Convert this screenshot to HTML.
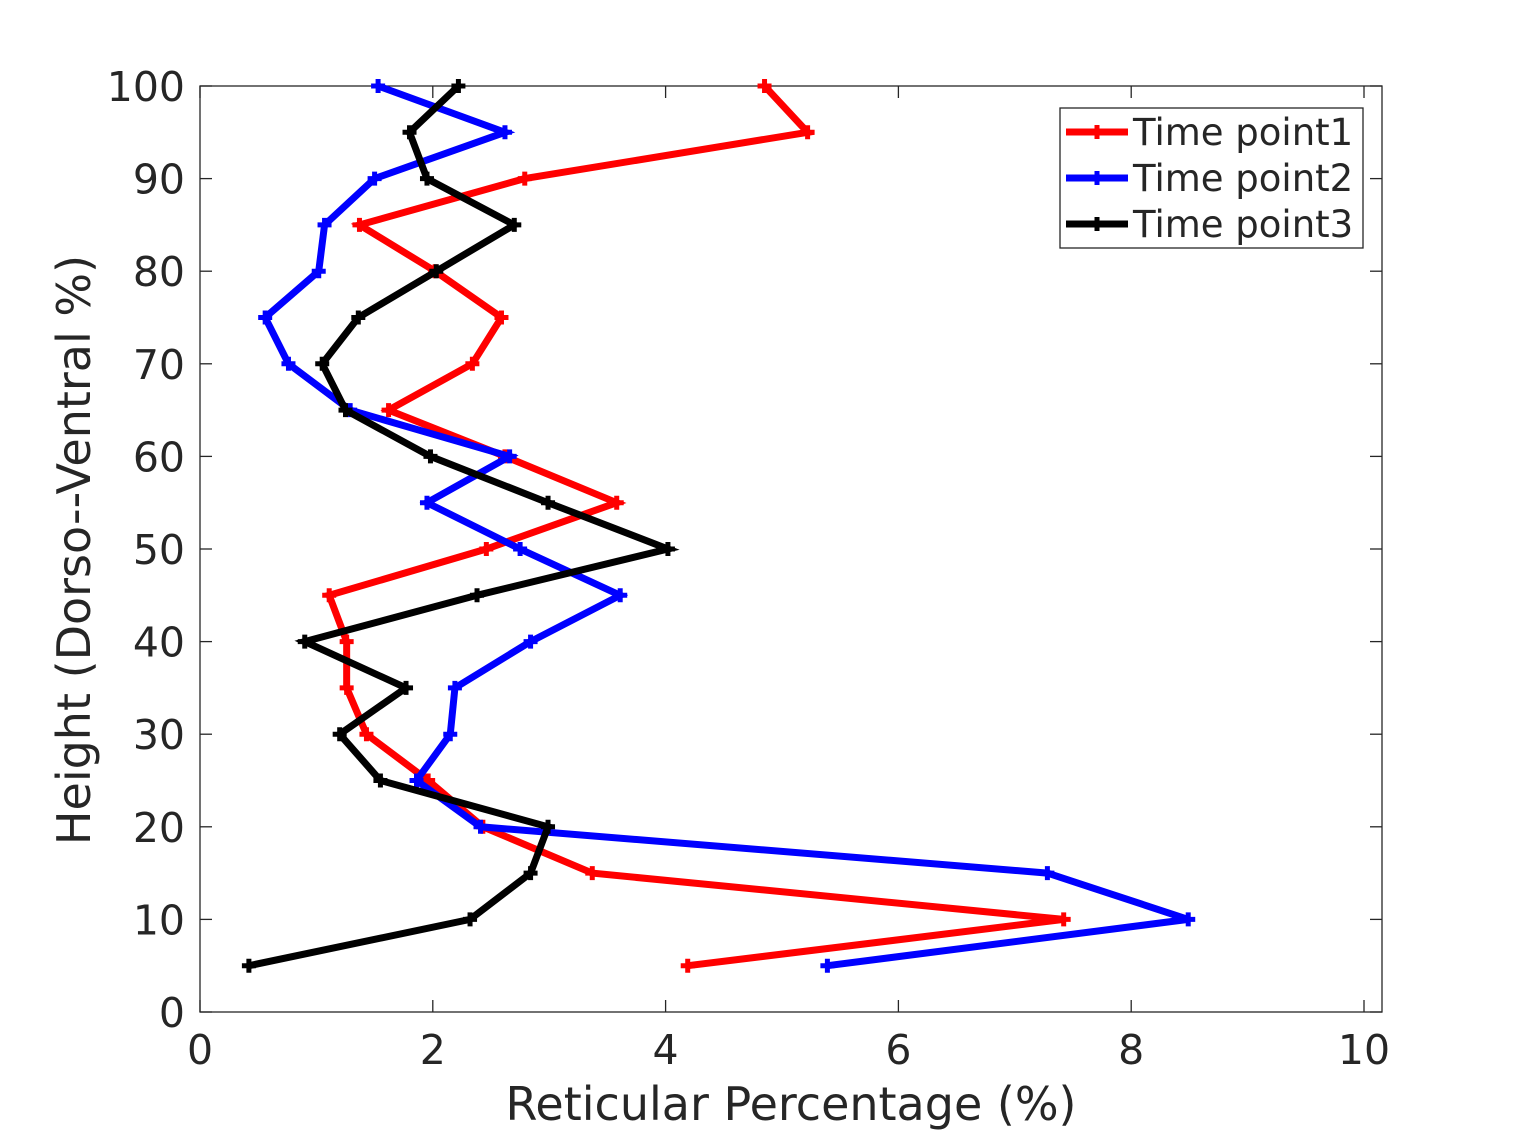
<!DOCTYPE html>
<html><head><meta charset="utf-8"><style>
body{margin:0;background:#fff;}
svg text{font-family:"DejaVu Sans","Liberation Sans",sans-serif;fill:#262626;}
</style></head><body>
<svg id="chart" width="1530" height="1138" xmlns="http://www.w3.org/2000/svg">
<rect width="1530" height="1138" fill="#fff"/>
<g id="plot"></g>
</svg>
<script>
const heights=[100,95,90,85,80,75,70,65,60,55,50,45,40,35,30,25,20,15,10,5];
const tp1=[4.85,5.22,2.79,1.37,2.02,2.59,2.34,1.62,2.62,3.58,2.46,1.11,1.26,1.26,1.43,1.96,2.43,3.37,7.42,4.19];
const tp2=[1.53,2.62,1.50,1.07,1.02,0.56,0.76,1.29,2.66,1.95,2.75,3.61,2.84,2.19,2.15,1.86,2.41,7.28,8.49,5.39];
const tp3=[2.22,1.80,1.95,2.70,2.03,1.36,1.05,1.25,1.98,2.99,4.02,2.38,0.90,1.77,1.20,1.55,2.99,2.84,2.32,0.42];
const xTicks=[0,2,4,6,8,10];
const yTicks=[0,10,20,30,40,50,60,70,80,90,100];
const seriesNames=["Time point1","Time point2","Time point3"];
const colors=["#ff0000","#0000ff","#000000"];
const NS="http://www.w3.org/2000/svg";
const L=200,R=1382,T=86,B=1012;
const xs=v=>L+v*116.4, ys=v=>B-(v/100)*(B-T);
const g=document.getElementById('plot');
function mk(t,a,p){const e=document.createElementNS(NS,t);for(const k in a)e.setAttribute(k,a[k]);(p||g).appendChild(e);return e;}
let e=mk('rect',{x:L,y:T,width:R-L,height:B-T,fill:'none',stroke:'#262626','stroke-width':1.3});


xTicks.forEach(t=>{const x=xs(t);
 mk('line',{x1:x,x2:x,y1:B,y2:B-12,stroke:'#262626','stroke-width':1.3});
 mk('line',{x1:x,x2:x,y1:T,y2:T+12,stroke:'#262626','stroke-width':1.3});
 const tx=mk('text',{x:x,y:B+52,'font-size':41,'text-anchor':'middle'});tx.textContent=t;
 
 });
yTicks.forEach(t=>{const y=ys(t);
 mk('line',{x1:L,x2:L+12,y1:y,y2:y,stroke:'#262626','stroke-width':1.3});
 mk('line',{x1:R,x2:R-12,y1:y,y2:y,stroke:'#262626','stroke-width':1.3});
 const tx=mk('text',{x:L-15,y:y+15,'font-size':41,'text-anchor':'end'});tx.textContent=t;
 
 });
let xt=mk('text',{x:791,y:1120,'font-size':46,'text-anchor':'middle'});xt.textContent='Reticular Percentage (%)';


let yt=mk('text',{x:0,y:0,'font-size':46,'text-anchor':'middle',transform:'translate(90,550) rotate(-90)'});yt.textContent='Height (Dorso--Ventral %)';


function marker(x,y,c,p){mk('path',{d:`M${x-7},${y}H${x+7}M${x},${y-7}V${y+7}`,stroke:c,'stroke-width':5},p);}
[tp1,tp2,tp3].forEach((s,i)=>{
 const sg=mk('g',{});
 
 
 mk('polyline',{points:s.map((v,j)=>xs(v)+','+ys(heights[j])).join(' '),fill:'none',stroke:colors[i],'stroke-width':7,'stroke-linejoin':'miter'},sg);
 s.forEach((v,j)=>marker(xs(v),ys(heights[j]),colors[i],sg));
});
const lg=mk('g',{});


mk('rect',{x:1060,y:108,width:303,height:140,fill:'#fff',stroke:'#262626','stroke-width':1.3},lg);
seriesNames.forEach((n,i)=>{const y=132+i*46;
 const eg=mk('g',{},lg);
 
 
 mk('line',{x1:1066,x2:1128,y1:y,y2:y,stroke:colors[i],'stroke-width':7},eg);
 marker(1097,y,colors[i],eg);
 const t=mk('text',{x:1133,y:y+13,'font-size':37},eg);t.textContent=n;t.setAttribute('fill','#000');
});
</script>
</body></html>
